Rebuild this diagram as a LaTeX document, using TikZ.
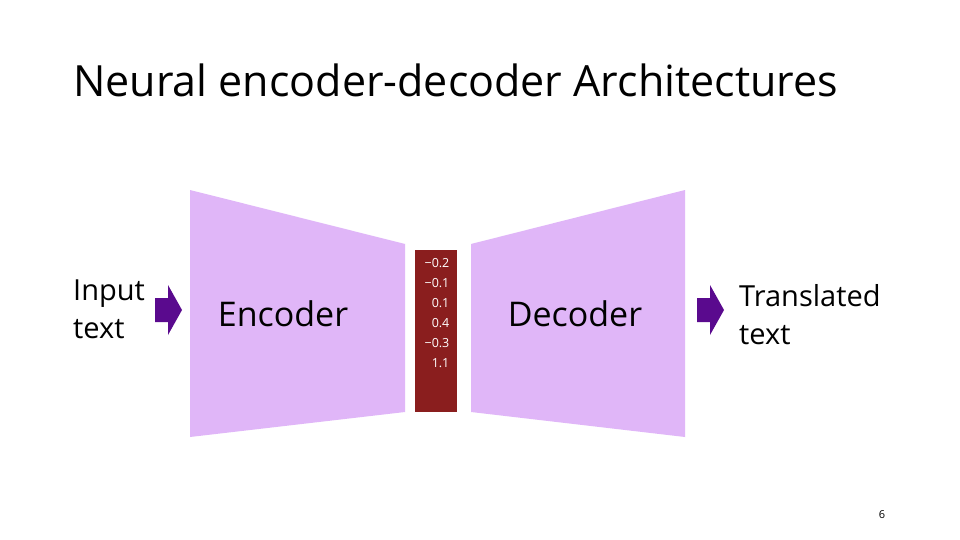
\documentclass[tikz,border=0pt]{standalone}
\usepackage{fontspec}
\setmainfont{Open Sans}
\begin{document}
\begin{tikzpicture}[x=1pt,y=-1pt,
  blk/.style={fill=lav,draw=none},
  arr/.style={fill=arrc,draw=none},
  lbl/.style={anchor=west,align=left,font=\fontsize{29}{38}\selectfont,inner sep=0pt},
  num/.style={font=\fontsize{12.5}{20}\selectfont,text=white,align=right}]
\definecolor{lav}{HTML}{E0B6F8}
\definecolor{arrc}{HTML}{5A0A8E}
\definecolor{vec}{HTML}{8A1E1E}
\useasboundingbox (0,0) rectangle (960,540);
\fill[white] (0,0) rectangle (960,540);
\node[anchor=west,inner sep=0pt,font=\fontsize{43}{50}\selectfont] (title) at (73,80) {Neural encoder-decoder Architectures};
\path[blk] (190,190) -- (405,244) -- (405,412) -- (190,437) -- cycle;
\path[blk] (471,244) -- (685,190) -- (685,437) -- (471,412) -- cycle;
\node[font=\fontsize{34}{40}\selectfont] (enc) at (283,314) {Encoder};
\node[font=\fontsize{34}{40}\selectfont] (dec) at (575,314) {Decoder};
\fill[vec] (415,250) rectangle (457,412);
\node[num] (v) at (437,313) {−0.2\\−0.1\\0.1\\0.4\\−0.3\\1.1};
\path[arr] (155,298) -- (168,298) -- (168,285) -- (182,310) -- (168,335) -- (168,322) -- (155,322) -- cycle;
\path[arr] (697,298) -- (710,298) -- (710,285) -- (724,310) -- (710,335) -- (710,322) -- (697,322) -- cycle;
\node[lbl] (in) at (73,309) {Input\\text};
\node[lbl] (out) at (739,315) {Translated\\text};
\node[font=\fontsize{11}{13}\selectfont] (pg) at (882,515) {6};
\end{tikzpicture}
\end{document}
